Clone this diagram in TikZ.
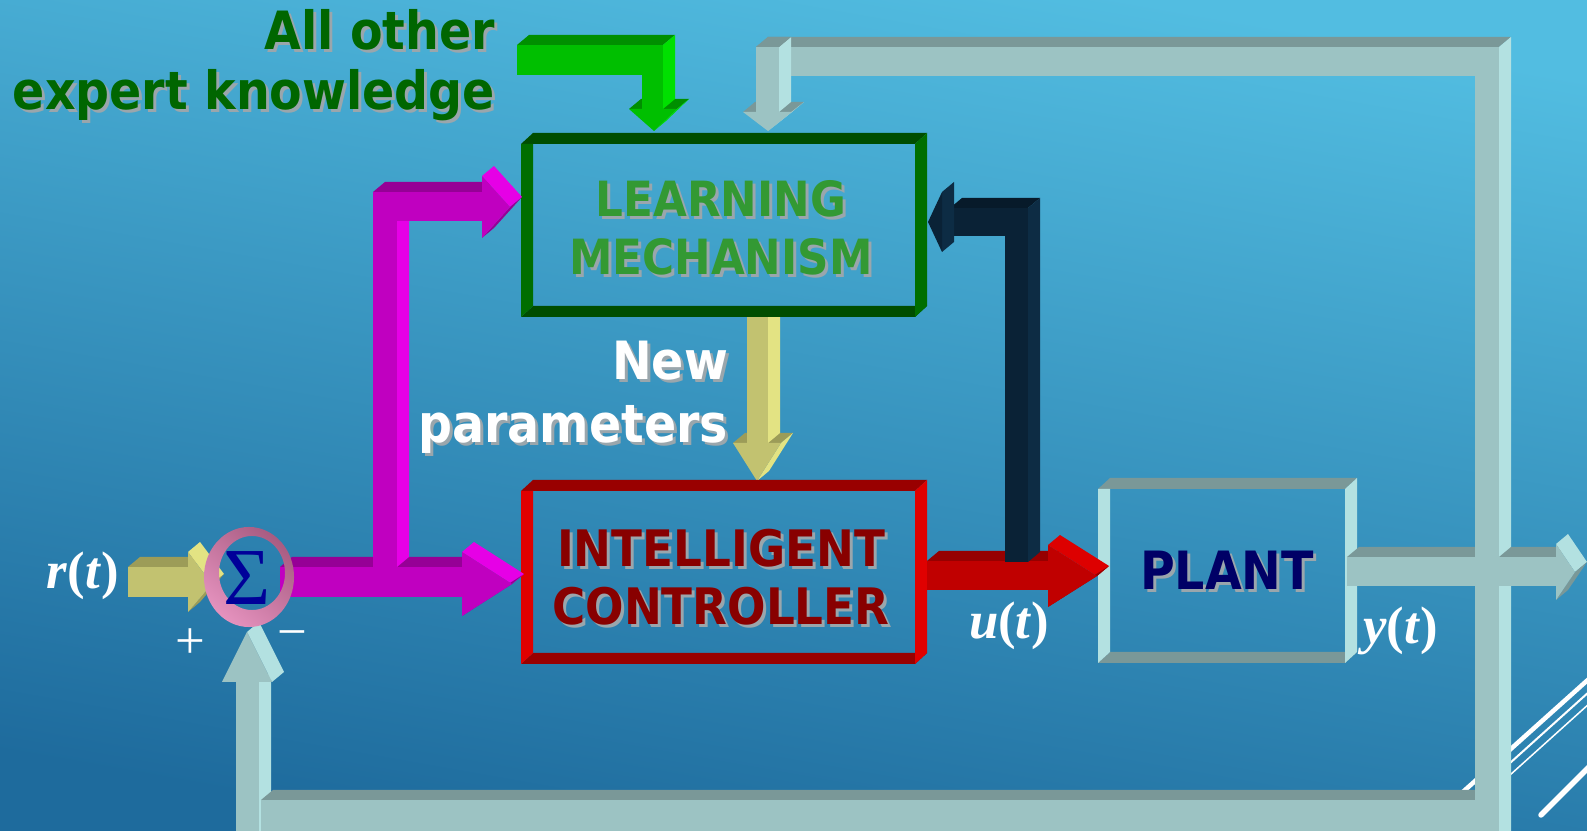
\documentclass[tikz,border=0pt]{standalone}
\usepackage{fontspec}
\usetikzlibrary{calc}
\newfontfamily\tah[FakeStretch=0.9]{DejaVu Sans}
\newfontfamily\tms{Liberation Serif}
\definecolor{bgtop}{HTML}{52BDE1}
\definecolor{bgbot}{HTML}{1E6B9D}
\definecolor{gfront}{HTML}{9CC3C3}
\definecolor{gtop}{HTML}{7A9898}
\definecolor{gside}{HTML}{B3E1E1}
\definecolor{yfront}{HTML}{C2C270}
\definecolor{ytop}{HTML}{9C9C58}
\definecolor{yside}{HTML}{E3E383}
\definecolor{mfront}{HTML}{C000C0}
\definecolor{mtop}{HTML}{960096}
\definecolor{mside}{HTML}{E600E6}
\definecolor{gnfront}{HTML}{00BF00}
\definecolor{gntop}{HTML}{008F00}
\definecolor{gnside}{HTML}{00E000}
\definecolor{nfront}{HTML}{0A2236}
\definecolor{ntop}{HTML}{071A2A}
\definecolor{nside}{HTML}{0D2C44}
\definecolor{rfront}{HTML}{C00000}
\definecolor{rtop}{HTML}{960000}
\definecolor{rside}{HTML}{DD0000}
\definecolor{lmdark}{HTML}{004D00}
\definecolor{lmlight}{HTML}{006E00}
\definecolor{icdark}{HTML}{990000}
\definecolor{iclight}{HTML}{E00000}
\definecolor{pldark}{HTML}{7A9898}
\definecolor{pllight}{HTML}{B3E1E1}
\definecolor{lmtext}{HTML}{339933}
\definecolor{ictext}{HTML}{880000}
\definecolor{pltext}{HTML}{000066}
\definecolor{aotext}{HTML}{006600}
\definecolor{sigc}{HTML}{000099}
\definecolor{shadowc}{HTML}{9AA6AC}
\definecolor{ringdark}{HTML}{A85C82}
\definecolor{ringlight}{HTML}{E592BE}
\def\dx{12}\def\dy{-10}
\newcommand\face[3]{\fill[#1] (#2) -- (#3) -- ($(#3)+(\dx,\dy)$) -- ($(#2)+(\dx,\dy)$) -- cycle;}
\newcommand\bframe[6]{%
 \fill[#5] (#1,#2+11) -- (#1+12,#2) -- (#3,#2) -- (#3-12,#2+11) -- cycle;
 \fill[#5] (#1,#4) -- (#1+12,#4-11) -- (#3,#4-11) -- (#3-12,#4) -- cycle;
 \fill[#6] (#1,#2+11) -- (#1+12,#2+11) -- (#1+12,#4-11) -- (#1,#4) -- cycle;
 \fill[#6] (#3-12,#2+11) -- (#3,#2) -- (#3,#4-11) -- (#3-12,#4) -- cycle;}
\newcommand\stx[5]{%
 \node[lbl, anchor=#2, #4, text=shadowc] (#1-s) at ($(#3)+(3,3)$) {#5};
 \node[lbl, anchor=#2, #4] (#1) at (#3) {#5};}
\newcommand\fBig{\tah\bfseries\fontsize{15}{18}\selectfont}
\newcommand\fBox{\tah\bfseries\fontsize{13.8}{17}\selectfont}
\newcommand\fBoxB{\tah\bfseries\fontsize{14.3}{17}\selectfont}
\newcommand\fMath{\tms\bfseries\fontsize{15}{18}\selectfont}
\tikzset{lbl/.style={inner sep=0pt, outer sep=0pt},
 blk/.style={inner sep=0pt, outer sep=0pt, minimum width=4.06cm, minimum height=1.84cm}}
\begin{document}
\begin{tikzpicture}[x=0.01cm,y=-0.01cm]
\useasboundingbox (0,0) rectangle (1587,831);
\shade[top color=bgtop,bottom color=bgbot,shading angle=-10] (0,0) rectangle (1587,831);
% decorative lines
\draw[white,line width=0.45mm] (1455,799) -- (1600,669);
\draw[white,line width=0.2mm] (1460,808) -- (1600,682);
\draw[white,line width=0.15mm] (1460,820) -- (1600,694);
\draw[white,line width=0.55mm,line cap=round] (1541,815) -- (1592,764);
% block nodes
\path node[blk] (lm) at (724,225) {};
\path node[blk] (ic) at (724,572) {};
\path node[blk, minimum width=2.59cm, minimum height=1.85cm] (pl) at (1227.5,570.5) {};
% plant frame
\bframe{1098}{478}{1357}{663}{pldark}{pllight}
% output, left part
\face{gtop}{1347,557}{1475,557}
\fill[gfront] (1347,557) rectangle (1478,586);
% top gray horizontal
\face{gtop}{756,47}{1499,47}
\fill[gfront] (770,47) rectangle (1478,76);
% feedback up arrow into sum
\face{gside}{247,632}{272,682}
\face{gside}{259,682}{259,845}
\fill[gfront] (236,680) rectangle (259,845);
\fill[gfront] (222,682) -- (272,682) -- (247,632) -- cycle;
% bottom horizontal
\face{gtop}{261,800}{1475,800}
\fill[gfront] (261,800) rectangle (1478,845);
% right vertical
\face{gside}{1499,47}{1499,845}
\fill[gfront] (1475,47) rectangle (1499,845);
% output, right part
\face{gtop}{1499,557}{1556,557}
\fill[gfront] (1499,557) rectangle (1558,586);
\face{gside}{1556,544}{1575,572}
\face{gtop}{1575,572}{1556,600}
\fill[gfront] (1556,544) -- (1575,572) -- (1556,600) -- cycle;
% gray down arrow into learning
\face{gtop}{743,112}{792,112}
\face{gside}{779,47}{779,112}
\face{gtop}{756,47}{779,47}
\fill[gfront] (756,47) rectangle (779,113);
\face{gside}{792,112}{768,131}
\fill[gfront] (743,112) -- (792,112) -- (768,131) -- cycle;
% green arrow
\face{gntop}{517,45}{663,45}
\fill[gnfront] (517,45) rectangle (645,75);
\face{gntop}{629,109}{677,109}
\face{gnside}{663,45}{663,109}
\fill[gnfront] (642,45) rectangle (663,110);
\face{gnside}{677,109}{654,131}
\fill[gnfront] (629,109) -- (677,109) -- (654,131) -- cycle;
% yellow vertical (from under the learning frame)
\face{ytop}{733,443}{781,443}
\fill[yside] (768,316) -- (780,316) -- (780,433) -- (768,443) -- cycle;
\fill[yfront] (747,316) rectangle (768,444);
\face{yside}{781,443}{757,481}
\fill[yfront] (733,443) -- (781,443) -- (757,481) -- cycle;
% frames
\bframe{521}{133}{927}{317}{lmdark}{lmlight}
\bframe{521}{480}{927}{664}{icdark}{iclight}
% yellow input
\face{ytop}{128,567}{190,567}
\fill[yfront] (128,567) rectangle (190,597);
\face{yside}{188,552}{212,584}
\face{ytop}{212,584}{188,612}
\fill[yfront] (188,552) -- (212,584) -- (188,612) -- cycle;
% magenta
\face{mtop}{280,567}{462,567}
\fill[mfront] (280,567) rectangle (464,597);
\face{mside}{462,552}{512,584}
\face{mtop}{512,584}{462,616}
\fill[mfront] (462,552) -- (512,584) -- (462,616) -- cycle;
\face{mside}{397,221}{397,567}
\fill[mfront] (373,205) rectangle (397,567);
\face{mtop}{373,192}{482,192}
\fill[mfront] (373,192) rectangle (484,221);
\face{mside}{482,176}{510,207}
\face{mtop}{510,207}{482,238}
\fill[mfront] (482,176) -- (510,207) -- (482,238) -- cycle;
% sum ring
\shade[even odd rule, top color=ringdark, bottom color=ringlight, shading angle=-40]
  (249,577) ellipse [x radius=0.45cm, y radius=0.50cm]
  (252,573) ellipse [x radius=0.33cm, y radius=0.37cm];
\node[lbl, text=sigc, font=\tms\fontsize{23}{25}\selectfont] (sum) at (247,578) {Σ};
% red arrow
\face{rtop}{927,561}{1048,561}
\fill[rfront] (927,561) rectangle (1050,590);
\face{rside}{1048,545}{1097,576}
\face{rtop}{1097,576}{1048,607}
\fill[rfront] (1048,545) -- (1097,576) -- (1048,607) -- cycle;
% navy arrow
\face{ntop}{950,208}{1028,208}
\fill[nfront] (948,208) rectangle (1010,236);
\face{nside}{942,192}{942,252}
\fill[nfront] (942,192) -- (942,252) -- (928,222) -- cycle;
\face{nside}{1028,208}{1028,562}
\fill[nfront] (1005,208) rectangle (1028,562);
% texts
\stx{ao1}{base east}{495,50}{font=\fBig, text=aotext}{All other}
\stx{ao2}{base east}{495,110}{font=\fBig, text=aotext}{expert knowledge}
\stx{lm1}{base}{721,217}{font=\fBox, text=lmtext}{LEARNING}
\stx{lm2}{base}{721,275}{font=\fBox, text=lmtext}{MECHANISM}
\stx{ic1}{base}{721,567}{font=\fBoxB, text=ictext}{INTELLIGENT}
\stx{ic2}{base}{721,625}{font=\fBoxB, text=ictext}{CONTROLLER}
\stx{pl1}{base}{1227,590}{font=\fBig, text=pltext}{PLANT}
\stx{np1}{base east}{728,380}{font=\fBig, text=white}{New}
\stx{np2}{base east}{728,443}{font=\fBig, text=white}{parameters}
\node[lbl, anchor=base west, text=white, font=\fMath] (r) at (47,589) {\textit{r}(\textit{t})};
\node[lbl, anchor=base west, text=white, font=\fMath] (u) at (969,639) {\textit{u}(\textit{t})};
\node[lbl, anchor=base west, text=white, font=\fMath] (y) at (1363,644) {\textit{y}(\textit{t})};
\node[lbl, text=white, font=\tms\fontsize{15}{18}\selectfont] (plus) at (190,644) {+};
\node[lbl, text=white, font=\tms\fontsize{15}{18}\selectfont] (minus) at (292,640) {−};
\end{tikzpicture}
\end{document}
